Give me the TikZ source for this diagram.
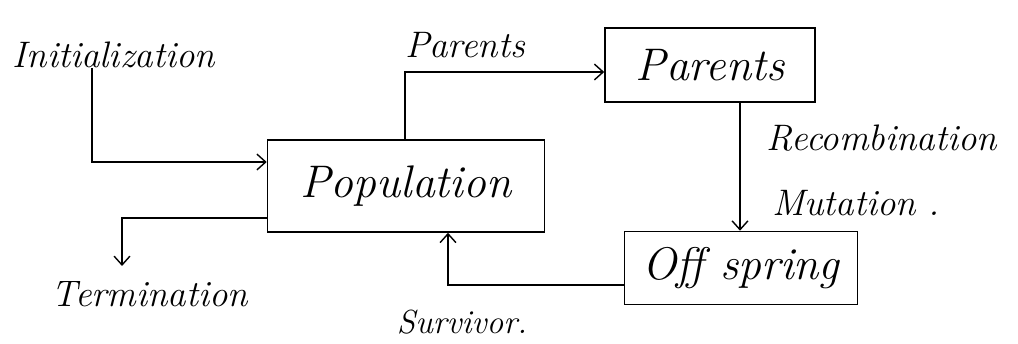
\documentclass[tikz,border=0pt]{standalone}
\usetikzlibrary{arrows.meta}
\begin{document}
\begin{tikzpicture}[x=0.02cm,y=-0.02cm,
  box/.style={draw,line width=0.9pt,inner sep=0pt,font=\fontsize{26}{30}\selectfont\itshape},
  lbl/.style={inner sep=0pt,font=\fontsize{21}{24}\selectfont\itshape},
  conn/.style={line width=0.8pt,-{Straight Barb[length=5pt,width=9pt]}}]
\useasboundingbox (0,0) rectangle (1018,344);
% boxes
\node[box,minimum width=5.54cm,minimum height=1.84cm] (pop) at (406,186) {Population};
\node[box,minimum width=4.2cm,minimum height=1.48cm] (par) at (710,65) {Parents};
\node[box,minimum width=4.66cm,minimum height=1.46cm] (off) at (741,268) {Off spring};
% labels
\node[lbl] (init) at (114,55) {Initialization};
\node[lbl] (parl) at (465,45) {Parents};
\node[lbl] (rec) at (882,138) {Recombination};
\node[lbl] (mut) at (856,203) {Mutation .};
\node[lbl] (term) at (150,294) {Termination};
\node[lbl,font=\fontsize{19}{22}\selectfont\itshape] (surv) at (462,322) {Survivor.};
% helper coordinates
\coordinate (i1) at (92,162);
\coordinate (p1) at (405,72);
\coordinate (r1) at (740,160);
\coordinate (s1) at (448,285);
\coordinate (t1) at (122,218);
\coordinate (t2) at (122,266);
% connectors
\draw[conn] (init.south -| i1) -- (i1) -- (pop.west |- i1);
\draw[conn] (pop.north -| p1) -- (p1) -- (par.west |- p1);
\draw[conn] (par.south -| r1) -- (off.north -| r1);
\draw[conn] (off.west |- s1) -- (s1) -- (pop.south -| s1);
\draw[conn] (pop.west |- t1) -- (t1) -- (t2);
\end{tikzpicture}
\end{document}
